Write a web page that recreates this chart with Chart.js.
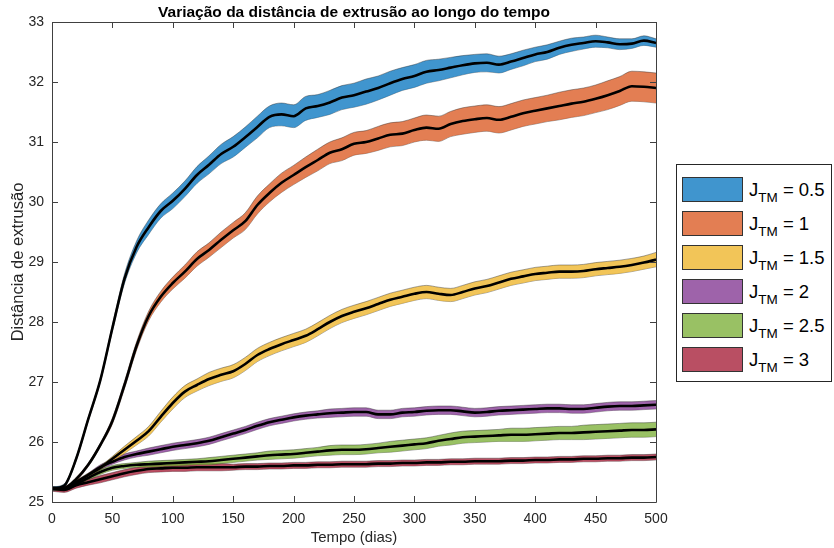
<!DOCTYPE html>
<html>
<head>
<meta charset="utf-8">
<script src="https://cdn.jsdelivr.net/npm/chart.js@4.4.1/dist/chart.umd.min.js"></script>
<style>
  html, body { margin: 0; padding: 0; background: #fff; }
  #wrap { position: relative; width: 834px; height: 548px; }
  #legend { position: absolute; left: 676px; top: 164px; width: 156px; height: 218px; box-sizing: border-box;
            border: 1px solid #262626; background: #fff; font-family: "Liberation Sans", Arial, sans-serif; color: #000; }
  .row { position: absolute; left: 5px; height: 25px; display: flex; align-items: center; }
  .sw { width: 61px; height: 25px; box-sizing: border-box; border: 1px solid #333; }
  .lb { margin-left: 6px; font-size: 18.5px; white-space: nowrap; line-height: 18px; }
  .lb sub { font-size: 13.5px; vertical-align: -6px; line-height: 0; }
</style>
</head>
<body>
<div id="wrap">
  <canvas id="c" width="834" height="548"></canvas>
  <div id="legend"></div>
</div>
<script>
// ---- data ----
const days = [0,10,20,30,40,50,60,70,80,90,100,110,120,130,140,150,160,170,180,190,200,210,220,230,240,250,260,270,280,290,300,310,320,330,340,350,360,370,380,390,400,410,420,430,440,450,460,470,480,490,500];
const seriesNames = ["0.5", "1", "1.5", "2", "2.5", "3"];
const seriesColors = ["rgba(0,114,189,0.75)", "rgba(217,83,25,0.75)", "rgba(237,177,32,0.75)", "rgba(126,47,142,0.75)", "rgba(119,172,48,0.75)", "rgba(162,20,47,0.75)"];

const mean05 = [25.22,25.27,25.72,26.38,27.03,27.9,28.72,29.25,29.58,29.85,30.02,30.22,30.45,30.62,30.8,30.92,31.08,31.25,31.42,31.46,31.43,31.56,31.6,31.66,31.74,31.78,31.84,31.9,31.98,32.05,32.1,32.17,32.2,32.24,32.28,32.31,32.32,32.29,32.34,32.4,32.46,32.5,32.57,32.62,32.65,32.68,32.66,32.63,32.64,32.69,32.65];
const band05 = [0.03,0.03,0.03,0.03,0.03,0.05,0.08,0.1,0.12,0.12,0.13,0.13,0.14,0.15,0.16,0.17,0.17,0.18,0.18,0.19,0.19,0.2,0.19,0.2,0.2,0.2,0.21,0.2,0.2,0.19,0.19,0.19,0.18,0.17,0.16,0.15,0.15,0.14,0.13,0.13,0.12,0.12,0.11,0.11,0.1,0.1,0.09,0.09,0.08,0.08,0.07];

const mean1 = [25.22,25.23,25.38,25.62,25.95,26.35,26.95,27.6,28.1,28.42,28.65,28.84,29.05,29.2,29.37,29.53,29.68,29.95,30.15,30.32,30.45,30.58,30.7,30.82,30.88,30.97,31.0,31.06,31.12,31.14,31.2,31.24,31.22,31.3,31.35,31.38,31.4,31.37,31.42,31.48,31.52,31.56,31.6,31.64,31.67,31.72,31.78,31.85,31.93,31.92,31.9];
const band1 = [0.03,0.03,0.03,0.03,0.03,0.05,0.06,0.07,0.08,0.09,0.1,0.11,0.12,0.12,0.13,0.13,0.14,0.15,0.15,0.16,0.16,0.17,0.18,0.18,0.19,0.19,0.19,0.2,0.2,0.2,0.2,0.21,0.21,0.21,0.22,0.22,0.22,0.22,0.22,0.22,0.22,0.22,0.23,0.23,0.23,0.23,0.24,0.24,0.25,0.25,0.25];

const mean15 = [25.22,25.22,25.33,25.45,25.57,25.72,25.87,26.02,26.18,26.42,26.65,26.84,26.95,27.05,27.12,27.18,27.3,27.45,27.55,27.63,27.7,27.77,27.88,28.0,28.1,28.17,28.23,28.3,28.37,28.42,28.47,28.5,28.47,28.45,28.5,28.56,28.6,28.66,28.72,28.76,28.8,28.82,28.84,28.84,28.85,28.88,28.9,28.92,28.95,28.99,29.04];
const band15 = [0.03,0.03,0.03,0.03,0.03,0.04,0.06,0.07,0.08,0.09,0.1,0.1,0.1,0.11,0.11,0.11,0.11,0.11,0.11,0.11,0.11,0.11,0.11,0.11,0.11,0.11,0.11,0.11,0.11,0.11,0.11,0.11,0.11,0.11,0.11,0.11,0.11,0.11,0.11,0.11,0.11,0.11,0.11,0.11,0.11,0.11,0.11,0.11,0.11,0.11,0.12];

const mean2 = [25.22,25.23,25.33,25.45,25.58,25.67,25.75,25.8,25.84,25.88,25.92,25.95,25.98,26.02,26.08,26.14,26.2,26.27,26.33,26.37,26.41,26.44,26.46,26.48,26.49,26.5,26.5,26.46,26.46,26.49,26.5,26.52,26.53,26.53,26.51,26.49,26.5,26.52,26.53,26.54,26.55,26.56,26.56,26.55,26.55,26.57,26.59,26.6,26.6,26.61,26.62];
const band2 = [0.03,0.03,0.03,0.03,0.04,0.04,0.05,0.05,0.06,0.06,0.06,0.06,0.06,0.06,0.06,0.06,0.06,0.06,0.06,0.06,0.06,0.06,0.06,0.07,0.07,0.07,0.07,0.07,0.07,0.07,0.07,0.07,0.07,0.07,0.07,0.07,0.07,0.07,0.07,0.07,0.07,0.07,0.07,0.07,0.07,0.07,0.07,0.07,0.07,0.07,0.07];

const mean25 = [25.22,25.22,25.3,25.4,25.5,25.57,25.6,25.62,25.63,25.64,25.65,25.66,25.67,25.68,25.7,25.72,25.74,25.76,25.78,25.79,25.8,25.82,25.84,25.86,25.87,25.87,25.88,25.9,25.92,25.94,25.96,25.98,26.02,26.05,26.08,26.09,26.1,26.11,26.12,26.12,26.13,26.14,26.15,26.15,26.16,26.17,26.18,26.19,26.2,26.2,26.21];
const band25 = [0.03,0.03,0.03,0.03,0.04,0.04,0.04,0.04,0.05,0.05,0.05,0.05,0.05,0.06,0.06,0.06,0.06,0.06,0.07,0.07,0.07,0.07,0.07,0.08,0.08,0.08,0.08,0.08,0.09,0.09,0.09,0.09,0.09,0.1,0.1,0.1,0.1,0.1,0.11,0.11,0.11,0.11,0.11,0.11,0.12,0.12,0.12,0.12,0.12,0.12,0.12];

const mean3 = [25.22,25.2,25.28,25.33,25.38,25.43,25.48,25.52,25.55,25.56,25.57,25.57,25.58,25.58,25.58,25.58,25.59,25.59,25.6,25.6,25.61,25.61,25.62,25.62,25.63,25.63,25.63,25.64,25.64,25.65,25.65,25.66,25.66,25.67,25.67,25.68,25.68,25.68,25.69,25.69,25.7,25.7,25.71,25.71,25.72,25.72,25.73,25.73,25.74,25.74,25.75];
const band3 = [0.04,0.04,0.05,0.05,0.06,0.06,0.06,0.06,0.06,0.06,0.06,0.06,0.06,0.06,0.06,0.05,0.05,0.05,0.05,0.05,0.05,0.05,0.05,0.05,0.05,0.05,0.05,0.05,0.05,0.05,0.05,0.05,0.05,0.05,0.05,0.05,0.05,0.05,0.05,0.05,0.05,0.05,0.05,0.05,0.05,0.05,0.05,0.05,0.05,0.05,0.05];

const xTicks = [0,50,100,150,200,250,300,350,400,450,500];
const yTicks = [25,26,27,28,29,30,31,32,33];

const means = [mean05, mean1, mean15, mean2, mean25, mean3];
const bands = [band05, band1, band15, band2, band25, band3];

// ---- build datasets ----
const datasets = [];
means.forEach((m, i) => {
  const upper = days.map((d, k) => ({x: d, y: m[k] + bands[i][k]}));
  const lower = days.map((d, k) => ({x: d, y: m[k] - bands[i][k]}));
  datasets.push({ data: upper, fill: '+1', backgroundColor: seriesColors[i], borderColor: 'rgba(40,40,40,0.7)', borderWidth: 0.6, pointRadius: 0, cubicInterpolationMode: 'monotone', order: 2 });
  datasets.push({ data: lower, fill: false, borderColor: 'rgba(40,40,40,0.7)', borderWidth: 0.6, pointRadius: 0, cubicInterpolationMode: 'monotone', order: 2 });
});
means.forEach((m) => {
  datasets.push({ data: days.map((d, k) => ({x: d, y: m[k]})), fill: false, borderColor: '#000', borderWidth: 2.6, pointRadius: 0, cubicInterpolationMode: 'monotone', order: 1 });
});

const axisColor = '#404040';
const boxTicks = {
  id: 'boxTicks',
  afterDatasetsDraw(chart) {
    const {ctx, chartArea: a, scales: {x, y}} = chart;
    ctx.save();
    ctx.strokeStyle = axisColor;
    ctx.lineWidth = 1;
    ctx.beginPath();
    ctx.rect(Math.round(a.left) + 0.5, Math.round(a.top) + 0.5, Math.round(a.right - a.left), Math.round(a.bottom - a.top));
    const L = 6;
    xTicks.forEach(v => {
      const px = Math.round(x.getPixelForValue(v)) + 0.5;
      ctx.moveTo(px, a.bottom); ctx.lineTo(px, a.bottom - L);
      ctx.moveTo(px, a.top); ctx.lineTo(px, a.top + L);
    });
    yTicks.forEach(v => {
      const py = Math.round(y.getPixelForValue(v)) + 0.5;
      ctx.moveTo(a.left, py); ctx.lineTo(a.left + L, py);
      ctx.moveTo(a.right, py); ctx.lineTo(a.right - L, py);
    });
    ctx.stroke();
    ctx.restore();
  }
};

const FONT = "'Liberation Sans', Arial, sans-serif";
new Chart(document.getElementById('c'), {
  type: 'line',
  data: { datasets },
  options: {
    responsive: false,
    animation: false,
    devicePixelRatio: 1,
    layout: { padding: { left: 0, right: 178, top: 0, bottom: 0 } },
    plugins: {
      legend: { display: false },
      tooltip: { enabled: false },
      title: {
        display: true, fullSize: false,
        text: 'Variação da distância de extrusão ao longo do tempo',
        color: '#000',
        font: { family: FONT, size: 15.5, weight: 'bold' },
        padding: { top: 3, bottom: 0.4 }
      }
    },
    scales: {
      x: {
        type: 'linear', min: 0, max: 500,
        afterFit(s) { s.height = 46; },
        afterBuildTicks(s) { s.ticks = xTicks.map(v => ({value: v})); },
        grid: { display: false, drawTicks: false },
        border: { display: false },
        ticks: { color: '#262626', font: { family: FONT, size: 14 }, padding: 9, maxRotation: 0 },
        title: { display: true, text: 'Tempo (dias)', color: '#262626', font: { family: FONT, size: 15 }, padding: { top: 0, bottom: 1.5 } }
      },
      y: {
        type: 'linear', min: 25, max: 33,
        afterFit(s) { s.width = 52; },
        afterBuildTicks(s) { s.ticks = yTicks.map(v => ({value: v})); },
        grid: { display: false, drawTicks: false },
        border: { display: false },
        ticks: { color: '#262626', font: { family: FONT, size: 14 }, padding: 8 },
        title: { display: true, text: 'Distância de extrusão', color: '#262626', font: { family: FONT, size: 16.5 }, padding: { top: 9, bottom: 0 } }
      }
    }
  },
  plugins: [boxTicks]
});

// ---- legend (HTML, for the J_TM subscript) ----
const leg = document.getElementById('legend');
seriesNames.forEach((n, i) => {
  const row = document.createElement('div');
  row.className = 'row';
  row.style.top = (12 + i * 34) + 'px';
  const sw = document.createElement('div');
  sw.className = 'sw';
  sw.style.background = seriesColors[i];
  const lb = document.createElement('div');
  lb.className = 'lb';
  lb.innerHTML = 'J<sub>TM</sub> = ' + n;
  row.appendChild(sw); row.appendChild(lb);
  leg.appendChild(row);
});
</script>
</body>
</html>
